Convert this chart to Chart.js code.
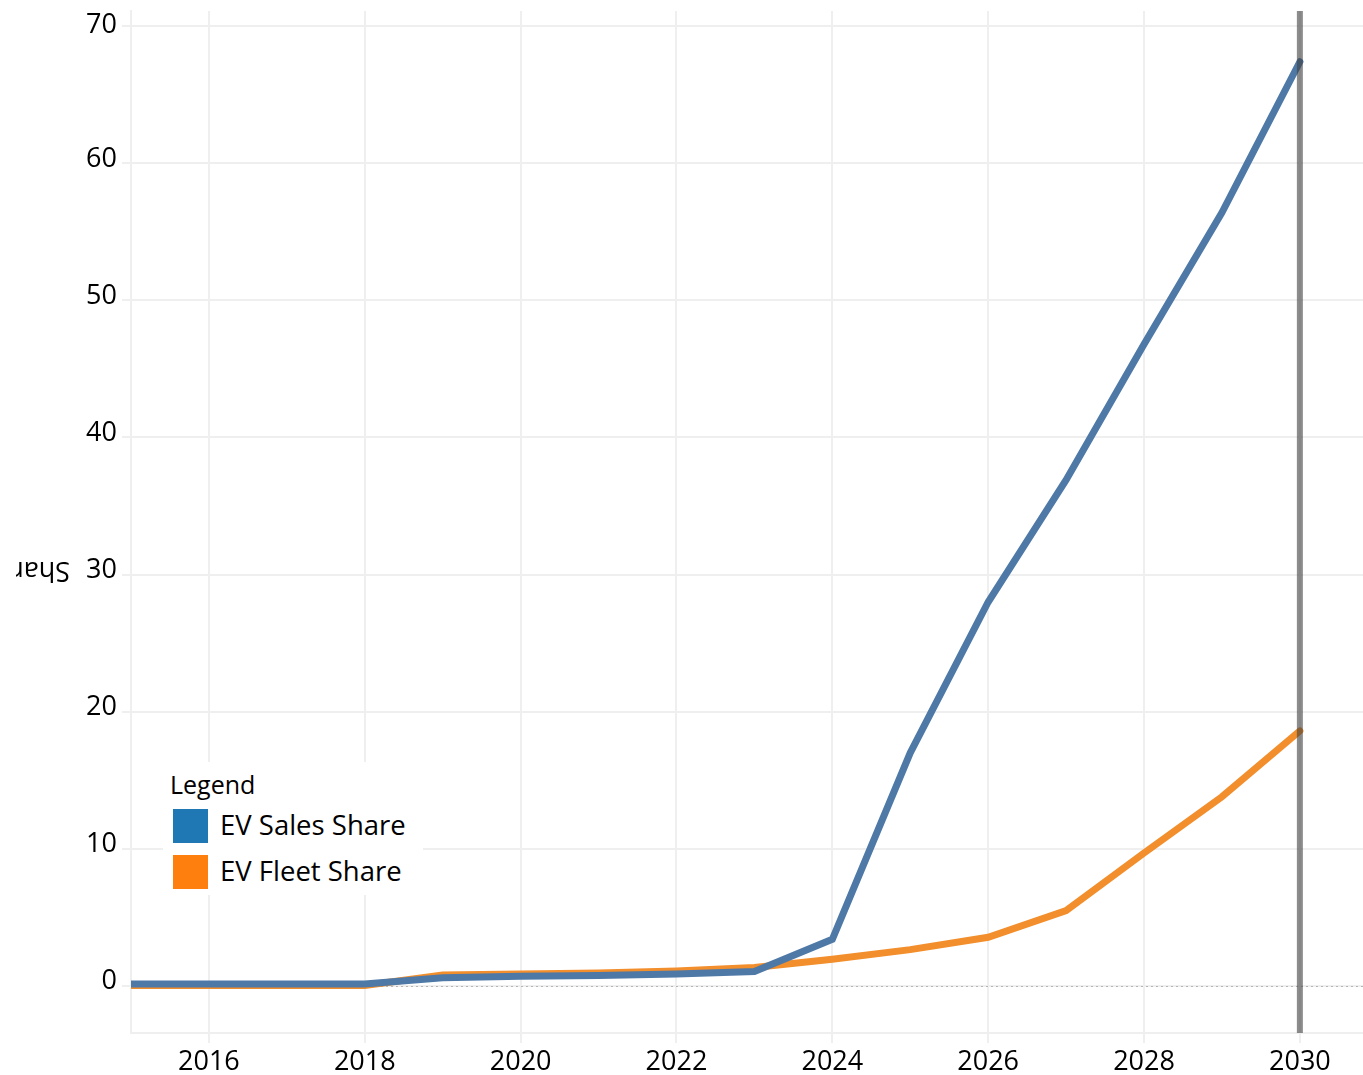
<!DOCTYPE html>
<html>
<head>
<meta charset="utf-8">
<script src="https://cdn.jsdelivr.net/npm/chart.js@4.4.1/dist/chart.umd.min.js"></script>
<style>
  html, body { margin: 0; padding: 0; background: #fff; }
  #wrap { position: relative; width: 1363px; height: 1075px; }
  #legend { position: absolute; left: 163px; top: 762px; width: 260px; height: 133px; background: #fff;
            font-family: "Open Sans", sans-serif; color: #000; }
  #legend .title { position: absolute; left: 7px; top: 5px; font-size: 25px; line-height: 34px; }
  #legend .item { position: absolute; left: 10px; height: 34px; }
  #legend .sw { position: absolute; left: 0; top: 0; width: 35px; height: 34px; }
  #legend .lbl { position: absolute; left: 47px; top: -3px; font-size: 27.5px; line-height: 38px; white-space: nowrap; }
</style>
</head>
<body>
<div id="wrap">
  <canvas id="c" width="1363" height="1075"></canvas>
  <div id="legend">
    <div class="title">Legend</div>
    <div class="item" style="top:47px"><div class="sw" style="background:#1f77b4"></div><div class="lbl">EV Sales Share</div></div>
    <div class="item" style="top:93px"><div class="sw" style="background:#ff7f0e"></div><div class="lbl">EV Fleet Share</div></div>
  </div>
</div>
<script>
const years = [2015, 2016, 2017, 2018, 2019, 2020, 2021, 2022, 2023, 2024, 2025, 2026, 2027, 2028, 2029, 2030];
const evSalesShare = [0.15, 0.15, 0.15, 0.15, 0.6, 0.7, 0.77, 0.88, 1.05, 3.4, 17.0, 28.0, 36.9, 46.8, 56.4, 67.4];
const evFleetShare = [0.03, 0.03, 0.03, 0.03, 0.8, 0.88, 0.95, 1.1, 1.35, 1.95, 2.65, 3.55, 5.5, 9.7, 13.8, 18.6];
const xTicks = [2016, 2018, 2020, 2022, 2024, 2026, 2028, 2030];
const yTicks = [0, 10, 20, 30, 40, 50, 60, 70];
const markerYear = 2030;

const FONT = '"Open Sans", sans-serif';
const GRID = '#efefef';

const overlay = {
  id: 'overlay',
  beforeDatasetsDraw(chart) {
    const { ctx, chartArea: a, scales: { y } } = chart;
    const y0 = Math.round(y.getPixelForValue(0)) + 0.5;
    ctx.save();
    ctx.strokeStyle = '#b5b5b5';
    ctx.lineWidth = 1;
    ctx.setLineDash([2, 3]);
    ctx.beginPath();
    ctx.moveTo(a.left, y0);
    ctx.lineTo(a.right, y0);
    ctx.stroke();
    ctx.restore();
  },
  afterDatasetsDraw(chart) {
    const { ctx, chartArea: a, scales: { x } } = chart;
    const px = x.getPixelForValue(markerYear);
    ctx.save();
    ctx.strokeStyle = 'rgba(64,64,64,0.6)';
    ctx.lineWidth = 6;
    ctx.beginPath();
    ctx.moveTo(px, a.top);
    ctx.lineTo(px, a.bottom);
    ctx.stroke();
    ctx.restore();
  },
  afterDraw(chart) {
    const { ctx, chartArea: a, scales: { y } } = chart;
    // y tick labels: baseline just under the gridline, kept inside the plot top
    ctx.save();
    ctx.font = '27px ' + FONT;
    ctx.fillStyle = '#000';
    ctx.textAlign = 'right';
    ctx.textBaseline = 'alphabetic';
    yTicks.forEach(v => {
      const py = y.getPixelForValue(v);
      const base = Math.max(py + 3.5, a.top + 22);
      ctx.fillText(String(v), a.left - 14, base);
    });
    ctx.restore();
    // axis title, upside down and clipped at left
    ctx.save();
    ctx.beginPath();
    ctx.rect(16, 0, 200, 1075);
    ctx.clip();
    ctx.translate(70, 562);
    ctx.rotate(Math.PI);
    ctx.font = '27px ' + FONT;
    ctx.fillStyle = '#000';
    ctx.textAlign = 'left';
    ctx.textBaseline = 'alphabetic';
    ctx.fillText('Share', 0, 0);
    ctx.restore();
  }
};

new Chart(document.getElementById('c'), {
  type: 'line',
  data: {
    datasets: [
      { label: 'EV Sales Share', data: years.map((yr, i) => ({ x: yr, y: evSalesShare[i] })),
        borderColor: '#4e79a7', backgroundColor: '#4e79a7', borderWidth: 7, pointRadius: 0, tension: 0,
        borderCapStyle: 'round', order: 0 },
      { label: 'EV Fleet Share', data: years.map((yr, i) => ({ x: yr, y: evFleetShare[i] })),
        borderColor: '#f28e2b', backgroundColor: '#f28e2b', borderWidth: 7, pointRadius: 0, tension: 0,
        borderCapStyle: 'round', order: 1 }
    ]
  },
  options: {
    responsive: false,
    animation: false,
    layout: { padding: { top: 11, right: 0, left: 0, bottom: 0 } },
    plugins: { legend: { display: false }, tooltip: { enabled: false } },
    scales: {
      x: {
        type: 'linear', min: 2015, max: 2030.81,
        afterBuildTicks: s => { s.ticks = xTicks.map(v => ({ value: v })); },
        afterFit: s => { s.height = 42; s.paddingLeft = 0; s.paddingRight = 0; },
        grid: { color: GRID, lineWidth: 2, tickLength: 10 },
        border: { color: GRID, width: 2 },
        ticks: { font: { family: FONT, size: 27 }, color: '#000', padding: 3, maxRotation: 0, autoSkip: false,
                 callback: v => String(v) }
      },
      y: {
        min: -3.43, max: 71.1,
        afterBuildTicks: s => { s.ticks = yTicks.map(v => ({ value: v })); },
        afterFit: s => { s.width = 131; s.paddingTop = 0; s.paddingBottom = 0; },
        grid: { color: GRID, lineWidth: 2, tickLength: 9 },
        border: { color: GRID, width: 2 },
        ticks: { display: false }
      }
    }
  },
  plugins: [overlay]
});
</script>
</body>
</html>
